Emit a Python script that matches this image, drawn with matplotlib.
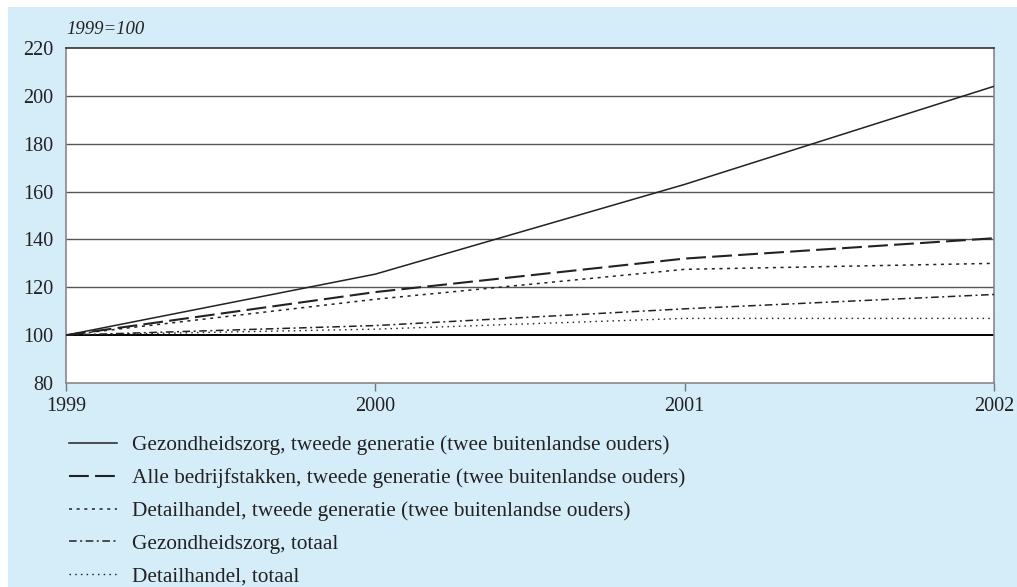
import matplotlib.pyplot as plt
from matplotlib.patches import Rectangle

# data (index, 1999=100)
years = [1999, 2000, 2001, 2002]
zorg_2e_gen = [100, 125.5, 163, 204]
alle_2e_gen = [100, 118, 132, 140.5]
detail_2e_gen = [100, 115, 127.5, 130]
zorg_totaal = [100, 104, 111, 117]
detail_totaal = [100, 102.5, 107, 107]

labels = [
    "Gezondheidszorg, tweede generatie (twee buitenlandse ouders)",
    "Alle bedrijfstakken, tweede generatie (twee buitenlandse ouders)",
    "Detailhandel, tweede generatie (twee buitenlandse ouders)",
    "Gezondheidszorg, totaal",
    "Detailhandel, totaal",
]
yticks = [80, 100, 120, 140, 160, 180, 200, 220]

plt.rcParams['font.family'] = ['Liberation Serif', 'DejaVu Serif']

fig = plt.figure(figsize=(10.17, 5.87), dpi=100)
fig.patch.set_facecolor('white')
bg = Rectangle((8 / 1017, 0), 1, 1 - 7 / 587, transform=fig.transFigure,
               facecolor='#d4edf9', edgecolor='none', zorder=-10)
fig.patches.append(bg)

ax = fig.add_axes([66 / 1017, 1 - 383 / 587, 928 / 1017, 335 / 587])
ax.set_facecolor('white')

# horizontal grid
for y in yticks[1:-1]:
    if y == 100:
        ax.axhline(y, color='black', lw=1.4, zorder=1)
    else:
        ax.axhline(y, color='#555555', lw=1.0, zorder=1)

ax.plot(years, zorg_2e_gen, color='#222222', lw=1.1, label=labels[0], zorder=3)
ax.plot(years, alle_2e_gen, color='#222222', lw=1.5, linestyle=(0, (9.5, 3)), label=labels[1], zorder=3)
ax.plot(years, detail_2e_gen, color='#222222', lw=1.1, linestyle=(0, (2, 3)), label=labels[2], zorder=3)
ax.plot(years, zorg_totaal, color='#222222', lw=1.1, linestyle=(0, (5, 2.3, 1.3, 2.3)), label=labels[3], zorder=3)
ax.plot(years, detail_totaal, color='#222222', lw=1.0, linestyle=(0, (1.1, 3)), label=labels[4], zorder=3)

ax.set_xlim(1999, 2002)
ax.set_ylim(80, 220)
ax.set_xticks(years)
ax.set_yticks(yticks)
ax.tick_params(axis='y', length=0, pad=9, labelsize=14.5, colors='#222222')
ax.tick_params(axis='x', length=6, width=1, color='#777777', pad=4, labelsize=14.5, labelcolor='#222222')

for side in ['left', 'right', 'bottom']:
    ax.spines[side].set_color('#888888')
    ax.spines[side].set_linewidth(1.2)
ax.spines['top'].set_color('#333333')
ax.spines['top'].set_linewidth(1.2)

ax.text(0, 1 + 18 / 335, "1999=100", transform=ax.transAxes, fontsize=13.5,
        style='italic', ha='left', va='center', color='#222222')

handles, labs = ax.get_legend_handles_labels()
fig.legend(handles, labs, loc='upper left', bbox_to_anchor=(60 / 1017, 1 - 427 / 587),
           frameon=False, fontsize=15.3, handlelength=2.26, handletextpad=0.75,
           labelspacing=0.61, borderaxespad=0, labelcolor='#222222')

fig.savefig('out.png', dpi=100)
